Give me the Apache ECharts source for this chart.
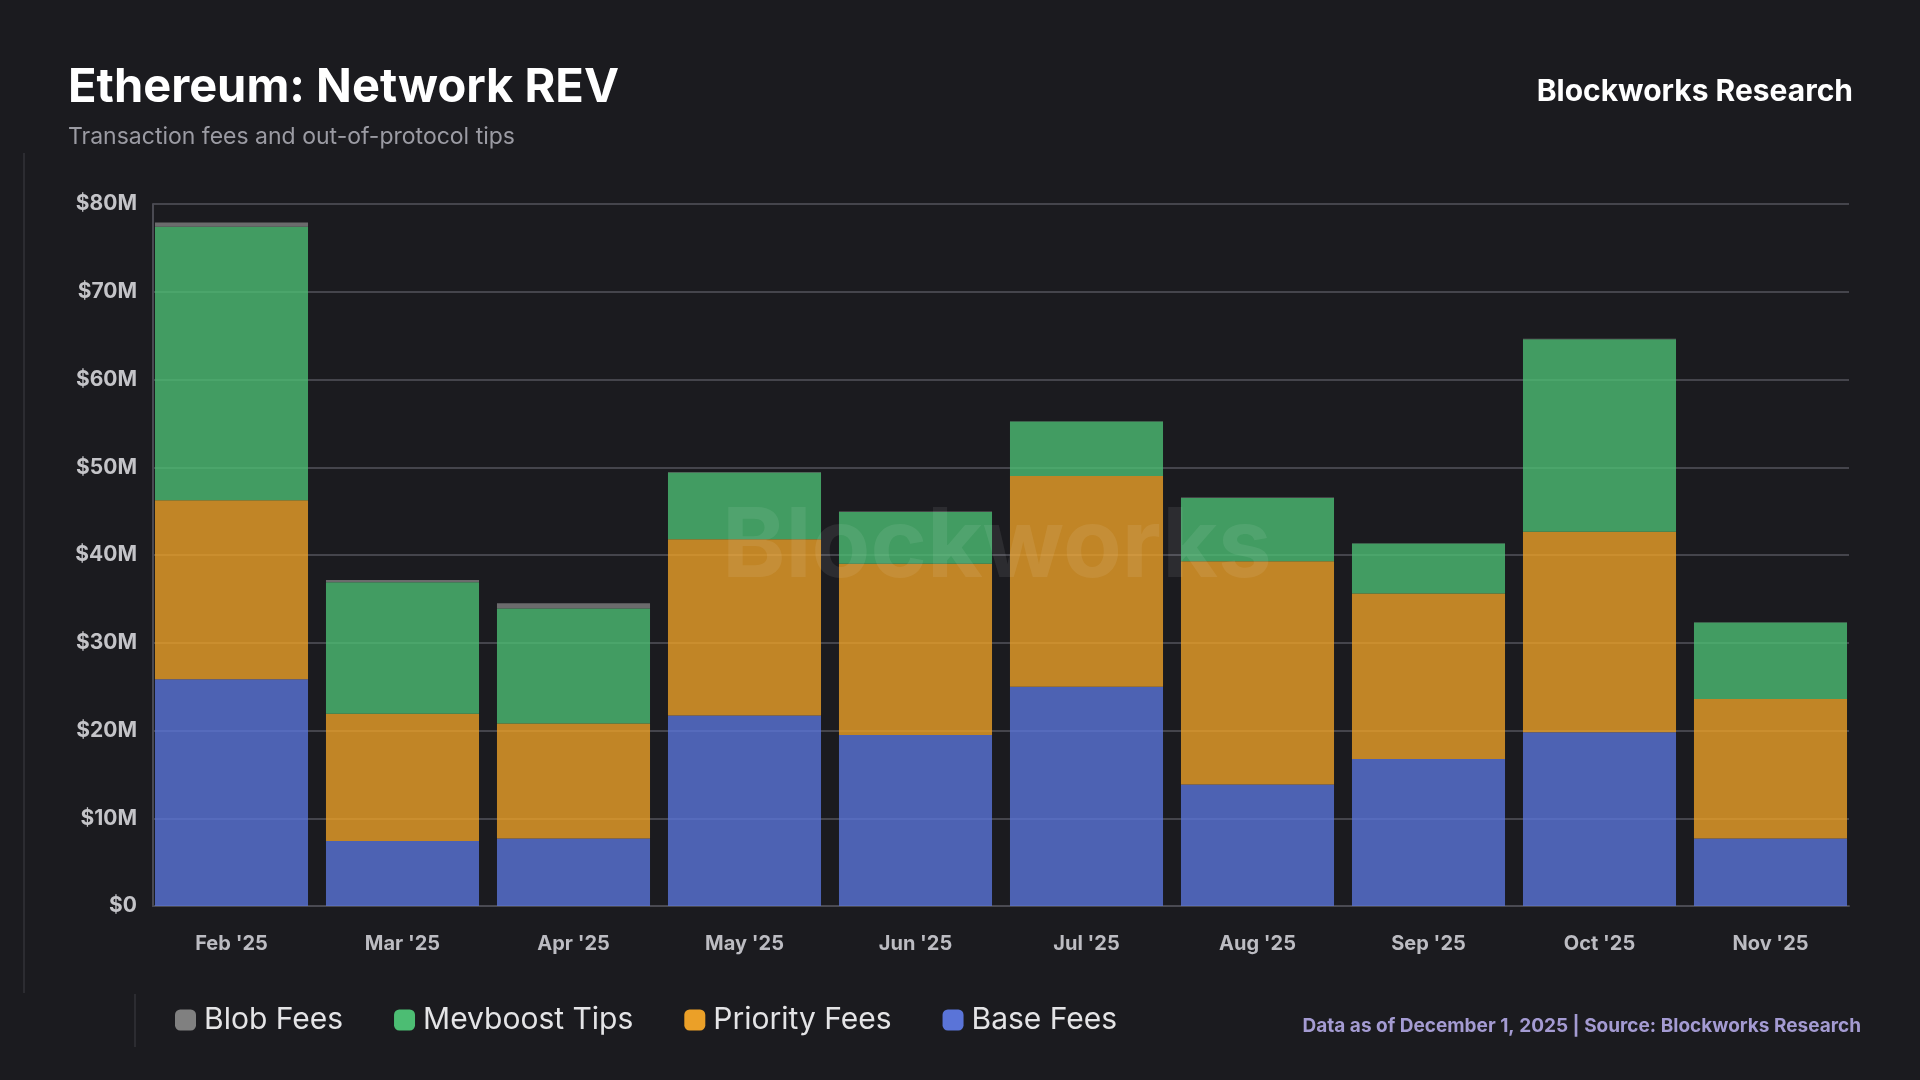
<!DOCTYPE html>
<html>
<head>
<meta charset="utf-8">
<title>Ethereum: Network REV</title>
<script src="https://cdn.jsdelivr.net/npm/echarts@6/dist/echarts.min.js"></script>
<style>
    html, body { margin: 0; padding: 0; background: #1b1b1f; }
    #main { width: 1920px; height: 1080px; }
</style>
</head>
<body>
<div id="main"></div>
<script>
// monthly values, $M
var months = ['Feb \'25', 'Mar \'25', 'Apr \'25', 'May \'25', 'Jun \'25', 'Jul \'25', 'Aug \'25', 'Sep \'25', 'Oct \'25', 'Nov \'25'];
var baseFees = [25.85, 7.4, 7.7, 21.7, 19.5, 25.0, 13.85, 16.75, 19.8, 7.7];
var priorityFees = [20.4, 14.5, 13.1, 20.1, 19.5, 24.0, 25.45, 18.85, 22.85, 15.9];
var mevboostTips = [31.15, 15.0, 13.1, 7.6, 5.9, 6.2, 7.2, 5.7, 21.95, 8.7];
var blobFees = [0.5, 0.25, 0.6, 0.05, 0.05, 0.05, 0.05, 0.05, 0.05, 0.05];
var yTicks = [0, 10, 20, 30, 40, 50, 60, 70, 80];

var myChart = echarts.init(document.getElementById('main'));

var font = 'Inter, Roboto, sans-serif';

function barSeries(name, data, color) {
    return {
        name: name,
        type: 'bar',
        stack: 'rev',
        xAxisIndex: 1,
        yAxisIndex: 1,
        data: data,
        barCategoryGap: '10.5%',
        itemStyle: {color: color, opacity: 0.8},
        emphasis: {disabled: true}
    };
}

option = {
    backgroundColor: '#1b1b1f',
    animation: false,
    title: [
        {
            text: 'Ethereum: Network REV',
            left: 63,
            top: 59,
            textStyle: {color: '#ffffff', fontSize: 47, fontWeight: 'bold', fontFamily: font}
        },
        {
            text: 'Transaction fees and out-of-protocol tips',
            left: 63,
            top: 121,
            textStyle: {color: '#9b9ba3', fontSize: 23, fontWeight: 'normal', fontFamily: font}
        },
        {
            text: 'Blockworks Research',
            right: 62,
            top: 72,
            textStyle: {color: '#ffffff', fontSize: 30, fontWeight: 'bold', fontFamily: font}
        },
        {
            text: 'Data as of December 1, 2025 | Source: Blockworks Research',
            right: 54,
            top: 1012,
            textStyle: {color: '#a49bd2', fontSize: 19, fontWeight: 'bold', fontFamily: font}
        }
    ],
    legend: {
        data: ['Blob Fees', 'Mevboost Tips', 'Priority Fees', 'Base Fees'],
        left: 170,
        top: 1000,
        icon: 'roundRect',
        itemWidth: 21,
        itemHeight: 21,
        itemGap: 51,
        selectedMode: false,
        itemStyle: {opacity: 1},
        textStyle: {color: '#e4e4e6', fontSize: 30, fontFamily: font, padding: [0, 0, 0, 3]}
    },
    // grid 0 carries the axis lines and gridlines, grid 1 the bars and month labels
    grid: [
        {left: 153, right: 71, top: 204, bottom: 174},
        {left: 146, right: 64, top: 204, bottom: 174}
    ],
    xAxis: [
        {
            type: 'category',
            gridIndex: 0,
            data: months,
            axisLine: {lineStyle: {color: '#4a4a52', width: 2}},
            axisTick: {show: false},
            axisLabel: {show: false}
        },
        {
            type: 'category',
            gridIndex: 1,
            data: months,
            axisLine: {show: false},
            axisTick: {show: false},
            axisLabel: {
                color: '#bcbcc2',
                fontSize: 20,
                fontWeight: 'bold',
                fontFamily: font,
                margin: 28
            }
        }
    ],
    yAxis: [
        {
            type: 'value',
            gridIndex: 0,
            min: yTicks[0],
            max: yTicks[yTicks.length - 1],
            interval: 10,
            axisLine: {show: true, lineStyle: {color: '#4a4a52', width: 2}},
            axisTick: {show: false},
            splitLine: {lineStyle: {color: '#45454c', width: 2}},
            axisLabel: {
                color: '#c4c4c8',
                fontSize: 21,
                fontWeight: 'bold',
                fontFamily: font,
                margin: 16,
                formatter: function (v) {
                    return v === 0 ? '$0' : '$' + v + 'M';
                }
            }
        },
        {
            type: 'value',
            gridIndex: 1,
            min: yTicks[0],
            max: yTicks[yTicks.length - 1],
            interval: 10,
            show: false,
            splitLine: {show: false}
        }
    ],
    graphic: [
        {
            type: 'rect',
            shape: {x: 23, y: 153, width: 2, height: 840},
            style: {fill: '#2c2c31'},
            silent: true
        },
        {
            type: 'rect',
            shape: {x: 134, y: 994, width: 2, height: 53},
            style: {fill: '#2c2c31'},
            silent: true
        },
        {
            type: 'text',
            left: 722,
            top: 500,
            z: 100,
            silent: true,
            style: {
                text: 'Blockworks',
                fill: 'rgba(255,255,255,0.08)',
                font: 'bold 96px Inter, Roboto, sans-serif'
            }
        }
    ],
    series: [
        barSeries('Base Fees', baseFees, '#5a74d8'),
        barSeries('Priority Fees', priorityFees, '#eba028'),
        barSeries('Mevboost Tips', mevboostTips, '#4cbd73'),
        barSeries('Blob Fees', blobFees, '#808080')
    ]
};

myChart.setOption(option);
</script>
</body>
</html>
